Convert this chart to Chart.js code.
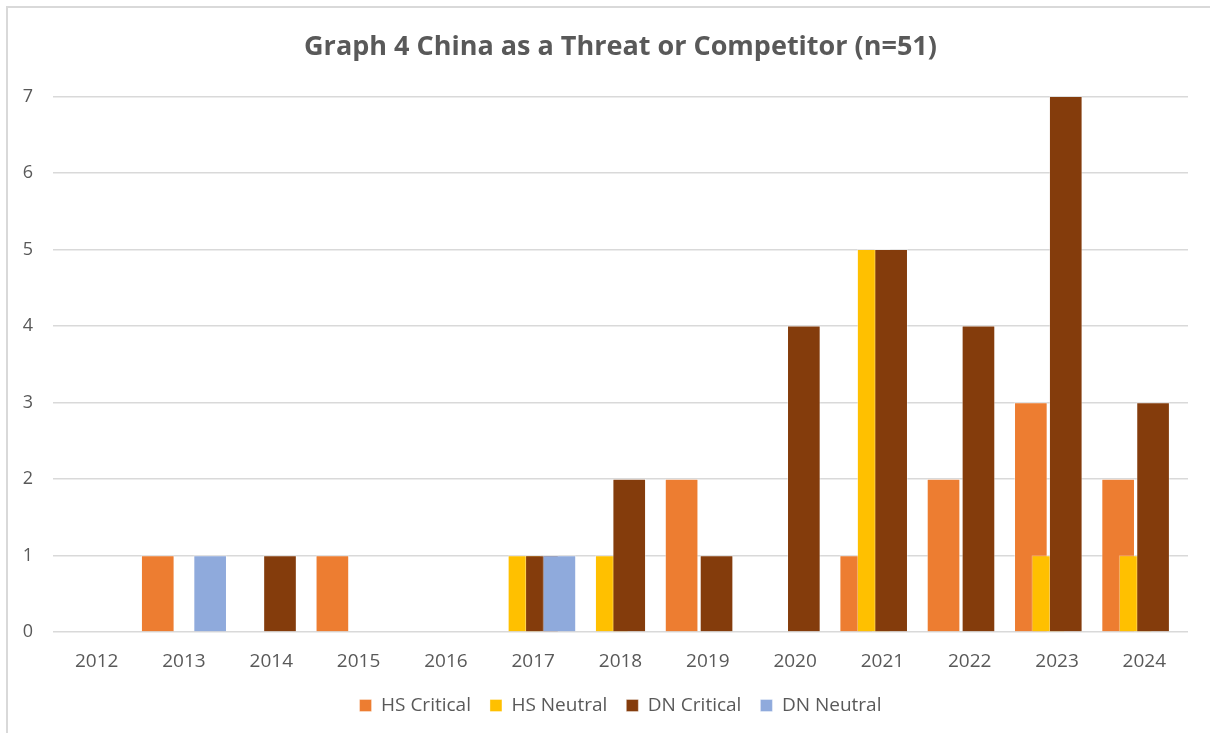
<!DOCTYPE html>
<html>
<head>
<meta charset="utf-8">
<script src="https://cdn.jsdelivr.net/npm/chart.js@4.4.1/dist/chart.umd.min.js"></script>
<style>
  html, body { margin: 0; padding: 0; background: #fff; overflow: hidden; }
  #wrap { position: relative; width: 1210px; height: 733px; }
  #frame { position: absolute; left: 6px; top: 6px; width: 1230px; height: 760px; border: 2px solid #d9d9d9; box-sizing: border-box; }
  #chart { position: absolute; left: 0; top: 0; }
</style>
</head>
<body>
<div id="wrap">
  <div id="frame"></div>
  <canvas id="chart" width="1210" height="733"></canvas>
</div>
<script>
// --- DATA ---
const years = [2012, 2013, 2014, 2015, 2016, 2017, 2018, 2019, 2020, 2021, 2022, 2023, 2024];
const hsCritical = [0, 1, 0, 1, 0, 0, 0, 2, 0, 1, 2, 3, 2];
const hsNeutral  = [0, 0, 0, 0, 0, 1, 1, 0, 0, 5, 0, 1, 1];
const dnCritical = [0, 0, 1, 0, 0, 1, 2, 1, 4, 5, 4, 7, 3];
const dnNeutral  = [0, 1, 0, 0, 0, 1, 0, 0, 0, 0, 0, 0, 0];
const yTicks = [0, 1, 2, 3, 4, 5, 6, 7];

const seriesNames = ['HS Critical', 'HS Neutral', 'DN Critical', 'DN Neutral'];
const seriesValues = [hsCritical, hsNeutral, dnCritical, dnNeutral];
const seriesColors = ['#ED7D31', '#FFC000', '#843C0C', '#8FAADC'];

const FONT = "'Open Sans', 'Liberation Sans', sans-serif";
const TEXT = '#595959';

// Excel-style overlapping bars: each series shifted a fifth of a year, later series drawn on top
const datasets = seriesNames.map((name, i) => ({
    label: name,
    data: seriesValues[i].map((v, k) => ({ x: years[k] + (i - 1.5) * 0.2, y: v || null })),
    backgroundColor: seriesColors[i],
    borderColor: 'rgba(255,255,255,0.35)',
    borderWidth: 1,
    borderSkipped: 'start',
    barThickness: 33,
    grouped: false,
    order: seriesNames.length - i
}));

new Chart(document.getElementById('chart'), {
    type: 'bar',
    data: { datasets },
    options: {
        responsive: false,
        animation: false,
        layout: { padding: { left: 0, right: 22, top: 0, bottom: 8 } },
        plugins: {
            title: {
                display: true,
                fullSize: false,
                text: 'Graph 4 China as a Threat or Competitor (n=51)',
                color: TEXT,
                font: { family: FONT, size: 27, weight: 'bold' },
                padding: { top: 31, bottom: 33 }
            },
            legend: {
                position: 'bottom',
                fullSize: false,
                labels: {
                    color: TEXT,
                    font: { family: FONT, size: 19 },
                    boxWidth: 12,
                    boxHeight: 12,
                    padding: 19,
                    sort: (a, b) => a.datasetIndex - b.datasetIndex
                }
            },
            tooltip: { enabled: false }
        },
        scales: {
            x: {
                type: 'linear',
                offset: false,
                min: years[0] - 0.5,
                max: years[years.length - 1] + 0.5,
                grid: { display: false },
                border: { display: false },
                afterBuildTicks: s => { s.ticks = years.map(v => ({ value: v })); },
                afterFit: s => { s.height = 45; },
                ticks: {
                    color: TEXT,
                    font: { family: FONT, size: 19 },
                    padding: 10,
                    maxRotation: 0,
                    autoSkip: false,
                    callback: v => String(v)
                }
            },
            y: {
                min: yTicks[0],
                max: yTicks[yTicks.length - 1],
                afterBuildTicks: s => { s.ticks = yTicks.map(v => ({ value: v })); },
                afterFit: s => { s.width = 53; },
                grid: { color: '#d9d9d9', lineWidth: 1.5, drawTicks: false },
                border: { display: false },
                ticks: {
                    color: TEXT,
                    font: { family: FONT, size: 18 },
                    padding: 20
                }
            }
        }
    }
});
</script>
</body>
</html>
